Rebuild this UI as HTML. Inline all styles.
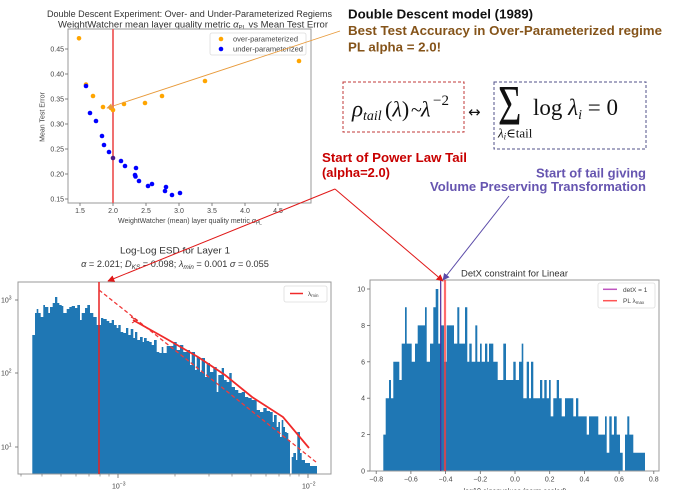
<!DOCTYPE html>
<html><head><meta charset="utf-8">
<style>
html,body{margin:0;padding:0;background:#fff;overflow:hidden;}
svg{display:block;}
text{font-family:"Liberation Sans",Arial,sans-serif;}
g.s text{font-family:"Liberation Serif","DejaVu Serif",serif;}
.t{fill:#444;font-size:7px;}
</style></head><body>
<svg width="688" height="490" viewBox="0 0 688 490" xmlns="http://www.w3.org/2000/svg">
<defs>
<marker id="ar" viewBox="0 0 10 10" refX="9" refY="5" markerWidth="7" markerHeight="7" orient="auto" markerUnits="userSpaceOnUse"><path d="M0,0 L10,5 L0,10 z" fill="#e01818"/></marker>
<marker id="ap" viewBox="0 0 10 10" refX="9" refY="5" markerWidth="7" markerHeight="7" orient="auto" markerUnits="userSpaceOnUse"><path d="M0,0 L10,5 L0,10 z" fill="#5a4aa8"/></marker>
<marker id="ao" viewBox="0 0 10 10" refX="9" refY="5" markerWidth="6" markerHeight="6" orient="auto" markerUnits="userSpaceOnUse"><path d="M0,0 L10,5 L0,10 z" fill="#e89a3a"/></marker>
</defs>
<rect width="688" height="490" fill="#fff"/>

<!-- ============ TOP-LEFT CHART ============ -->
<text x="189.5" y="17" font-size="8.8" fill="#333" text-anchor="middle" textLength="285" lengthAdjust="spacingAndGlyphs">Double Descent Experiment: Over- and Under-Parameterized Regiems</text>
<text x="58" y="27.5" font-size="8.8" fill="#333" textLength="270" lengthAdjust="spacingAndGlyphs">WeightWatcher mean layer quality metric <tspan font-style="italic">α</tspan><tspan font-size="5.5" dy="1.5">PL</tspan><tspan dy="-1.5">  vs Mean Test Error</tspan></text>
<rect x="68" y="29" width="243" height="174" fill="none" stroke="#9a9a9a" stroke-width="1"/>
<line x1="113" y1="29" x2="113" y2="203" stroke="#ee6060" stroke-width="1.8"/>
<g stroke="#666" stroke-width="0.8">
<line x1="65" y1="49" x2="68" y2="49"/><line x1="65" y1="74" x2="68" y2="74"/><line x1="65" y1="99" x2="68" y2="99"/><line x1="65" y1="124" x2="68" y2="124"/><line x1="65" y1="149" x2="68" y2="149"/><line x1="65" y1="174" x2="68" y2="174"/><line x1="65" y1="199" x2="68" y2="199"/>
<line x1="80" y1="203" x2="80" y2="206"/><line x1="113" y1="203" x2="113" y2="206"/><line x1="146" y1="203" x2="146" y2="206"/><line x1="179" y1="203" x2="179" y2="206"/><line x1="212" y1="203" x2="212" y2="206"/><line x1="245" y1="203" x2="245" y2="206"/><line x1="278" y1="203" x2="278" y2="206"/>
</g>
<g class="t" text-anchor="end">
<text x="64" y="51.5">0.45</text><text x="64" y="76.5">0.40</text><text x="64" y="101.5">0.35</text><text x="64" y="126.5">0.30</text><text x="64" y="151.5">0.25</text><text x="64" y="176.5">0.20</text><text x="64" y="201.5">0.15</text>
</g>
<g class="t" text-anchor="middle">
<text x="80" y="213">1.5</text><text x="113" y="213">2.0</text><text x="146" y="213">2.5</text><text x="179" y="213">3.0</text><text x="212" y="213">3.5</text><text x="245" y="213">4.0</text><text x="278" y="213">4.5</text>
</g>
<text transform="translate(44.5,117) rotate(-90)" class="t" text-anchor="middle">Mean Test Error</text>
<text x="190" y="223" class="t" text-anchor="middle">WeightWatcher (mean) layer quality metric <tspan font-style="italic">α</tspan><tspan font-size="5" dy="1.5">PL</tspan></text>
<g fill="#ffa500">
<circle cx="79" cy="38.3" r="2.3"/><circle cx="86" cy="84.5" r="2.3"/><circle cx="93" cy="96" r="2.3"/><circle cx="103" cy="107" r="2.3"/><circle cx="111" cy="108" r="2.3"/><circle cx="113" cy="110" r="2.3"/><circle cx="124" cy="104" r="2.3"/><circle cx="145" cy="103" r="2.3"/><circle cx="162" cy="96" r="2.3"/><circle cx="205" cy="81" r="2.3"/><circle cx="299" cy="61" r="2.3"/>
</g>
<g fill="#0000ff">
<circle cx="86" cy="86" r="2.3"/><circle cx="90" cy="113" r="2.3"/><circle cx="96" cy="121" r="2.3"/><circle cx="102" cy="136" r="2.3"/><circle cx="104" cy="145" r="2.3"/><circle cx="109" cy="152" r="2.3"/><circle cx="113" cy="158" r="2.3" fill="#4a1a8a"/><circle cx="121" cy="161" r="2.3"/><circle cx="125" cy="166" r="2.3"/><circle cx="136" cy="168" r="2.3"/><circle cx="135" cy="175" r="2.3"/><circle cx="135.5" cy="176.5" r="2.3"/><circle cx="139" cy="181" r="2.3"/><circle cx="148" cy="186" r="2.3"/><circle cx="152" cy="184" r="2.3"/><circle cx="165" cy="191" r="2.3"/><circle cx="166" cy="187" r="2.3"/><circle cx="172" cy="195" r="2.3"/><circle cx="180" cy="193" r="2.3"/>
</g>
<rect x="210" y="33" width="96" height="22" fill="#fff" stroke="#dcdcdc" stroke-width="0.8" rx="2"/>
<circle cx="221" cy="39" r="2.3" fill="#ffa500"/>
<circle cx="221" cy="49" r="2.3" fill="#0000ff"/>
<text x="233" y="41.5" class="t" textLength="65" lengthAdjust="spacingAndGlyphs">over-parameterized</text>
<text x="233" y="51.5" class="t" textLength="70" lengthAdjust="spacingAndGlyphs">under-parameterized</text>
<line x1="340" y1="31" x2="107" y2="108" stroke="#e89a3a" stroke-width="0.9" marker-end="url(#ao)"/>

<!-- ============ TOP-RIGHT TEXT ============ -->
<text x="348" y="18.3" font-size="13" font-weight="bold" fill="#111" textLength="185" lengthAdjust="spacingAndGlyphs">Double Descent model (1989)</text>
<text x="348" y="35" font-size="13" font-weight="bold" fill="#85541a" textLength="314" lengthAdjust="spacingAndGlyphs">Best Test Accuracy in Over-Parameterized regime</text>
<text x="348" y="51.3" font-size="13" font-weight="bold" fill="#85541a" textLength="93" lengthAdjust="spacingAndGlyphs">PL alpha = 2.0!</text>

<rect x="343" y="82" width="121" height="50" fill="none" stroke="#c03838" stroke-width="1" stroke-dasharray="3,2"/>
<rect x="494" y="82" width="152" height="67" fill="none" stroke="#50508a" stroke-width="1" stroke-dasharray="3,2"/>
<g class="s" fill="#111">
<text x="352" y="116.5" font-size="23" font-style="italic">ρ</text>
<text x="363" y="120" font-size="14" font-style="italic">tail</text>
<text x="385" y="116.5" font-size="22">(<tspan font-style="italic">λ</tspan>)</text>
<text x="411" y="116.5" font-size="20">~</text>
<text x="421" y="116.5" font-size="22" font-style="italic">λ</text>
<text x="433" y="105" font-size="15">−2</text>
<text x="468" y="117" font-size="15" style="font-family:'DejaVu Sans',sans-serif">↔</text>
<text transform="translate(498,124.5) scale(1.12,1.6)" font-size="36">Σ</text>
<text x="533" y="115" font-size="23">log <tspan font-style="italic">λ</tspan><tspan font-size="14" font-style="italic" dy="4">i</tspan><tspan dy="-4"> = 0</tspan></text>
<text x="498" y="137.5" font-size="13"><tspan font-style="italic">λ</tspan><tspan font-size="9" font-style="italic" dy="2">i</tspan><tspan dy="-2">∈tail</tspan></text>
</g>

<text x="322" y="162" font-size="13" font-weight="bold" fill="#c80000" textLength="145" lengthAdjust="spacingAndGlyphs">Start of Power Law Tail</text>
<text x="322" y="177" font-size="13" font-weight="bold" fill="#c80000" textLength="68" lengthAdjust="spacingAndGlyphs">(alpha=2.0)</text>
<text x="536" y="177.3" font-size="13" font-weight="bold" fill="#6655b0" textLength="110" lengthAdjust="spacingAndGlyphs">Start of tail giving</text>
<text x="430" y="191" font-size="13" font-weight="bold" fill="#6655b0" textLength="216" lengthAdjust="spacingAndGlyphs">Volume Preserving Transformation</text>

<!-- ============ BOTTOM-LEFT CHART ============ -->
<text x="175" y="253.5" font-size="9.5" fill="#333" text-anchor="middle" textLength="110" lengthAdjust="spacingAndGlyphs">Log-Log ESD for Layer 1</text>
<text x="175" y="267" font-size="9.2" fill="#333" text-anchor="middle"><tspan font-style="italic">α</tspan> = 2.021; <tspan font-style="italic">D</tspan><tspan font-size="6.5" font-style="italic" dy="2">KS</tspan><tspan dy="-2"> = 0.098; </tspan><tspan font-style="italic">λ</tspan><tspan font-size="6.5" font-style="italic" dy="2">min</tspan><tspan dy="-2"> = 0.001 </tspan><tspan font-style="italic">σ</tspan> = 0.055</text>
<path fill="#1f77b4" d="M32.3,474 V335 H35 V313 H36.7 V309 H38.3 V313 H40.7 V317 H43.3 V305 H45 V307 H48.3 V313 H50 V307 H52.7 V303 H55 V297 H57.3 V303 H59.3 V305 H61.7 V306 H63.3 V313 H66.7 V309 H69.3 V307 H71.7 V306 H75 V308 H77.3 V305 H80 V320 H81.7 V313 H85 V308 H87.3 V305 H90 V313 H93.3 V317 H96.7 V325 H101 V318 H103.3 V319 H106.7 V321 H109.3 V323 H111.7 V320 H114 V325 H116.7 V328 H118.3 V325 H120.7 V332 H123.3 V333 H126 V328 H128.3 V335 H130.7 V329 H133.3 V338 H135 V332 H137.3 V340 H140 V337 H142.7 V342 H144 V338 H146.7 V341 H149.3 V342 H151.7 V345 H154 V340 H156.7 V352 H159.3 V353 H161.7 V347 H163.3 V353 H166.7 V346 H173.3 V342 H176.7 V350 H180 V345 H183.3 V352 H186.7 V350 H190 V365 H191.7 V352 H195 V370 H196.7 V357 H200 V372 H201.7 V358 H205 V377 H206.7 V363 H210 V372 H213.3 V367 H216.7 V392 H218.3 V375 H221.7 V368 H224 V380 H226.7 V382 H229.3 V373 H231.7 V387 H235 V390 H238.3 V393 H241.7 V392 H245 V397 H248.3 V398 H251.7 V400 H256.7 V410 H260 V412 H263.3 V408 H266.7 V411 H270 V412 H272.7 V422 H274 V415 H276.7 V427 H278.3 V422 H280 V437 H281.7 V420 H283.3 V427 H285 V432 H286.7 V433 H288.3 V440 H290 V474 H291.7 V457 H293.3 V453 H296 V460 H297.3 V432 H300 V453 H301.7 V460 H305 V463 H310 V466 H317 V474 Z"/>
<rect x="18" y="282" width="313" height="192" fill="none" stroke="#9a9a9a" stroke-width="1"/>
<line x1="99" y1="282" x2="99" y2="474" stroke="#e82020" stroke-width="1.5"/>
<line x1="99" y1="290" x2="316" y2="462" stroke="#f03a3a" stroke-width="1.3" stroke-dasharray="4,2.5"/>
<polyline points="133,320 165,338 198,357 225,375 252,397 283,417 309,448" fill="none" stroke="#f02a2a" stroke-width="1.8"/>
<path d="M131,317 l6,3 l-5,3" fill="none" stroke="#e02020" stroke-width="1"/>
<rect x="284" y="286" width="43" height="16" fill="#fff" stroke="#dcdcdc" stroke-width="0.8" rx="2"/>
<line x1="290" y1="293.5" x2="303" y2="293.5" stroke="#f02a2a" stroke-width="1.5"/>
<text x="308" y="296" font-size="6.5" fill="#444">λ<tspan font-size="4.5" dy="1">min</tspan></text>
<g stroke="#666" stroke-width="0.8">
<line x1="15" y1="300" x2="18" y2="300"/><line x1="15" y1="373" x2="18" y2="373"/><line x1="15" y1="447" x2="18" y2="447"/>
<line x1="118" y1="474" x2="118" y2="478"/><line x1="308" y1="474" x2="308" y2="478"/>
</g>
<g stroke="#666" stroke-width="0.6">
<line x1="21" y1="474" x2="21" y2="476.5"/><line x1="42" y1="474" x2="42" y2="476.5"/><line x1="61" y1="474" x2="61" y2="476.5"/><line x1="76" y1="474" x2="76" y2="476.5"/><line x1="89" y1="474" x2="89" y2="476.5"/><line x1="100" y1="474" x2="100" y2="476.5"/><line x1="109" y1="474" x2="109" y2="476.5"/>
<line x1="175" y1="474" x2="175" y2="476.5"/><line x1="209" y1="474" x2="209" y2="476.5"/><line x1="232" y1="474" x2="232" y2="476.5"/><line x1="251" y1="474" x2="251" y2="476.5"/><line x1="266" y1="474" x2="266" y2="476.5"/><line x1="279" y1="474" x2="279" y2="476.5"/><line x1="290" y1="474" x2="290" y2="476.5"/><line x1="299" y1="474" x2="299" y2="476.5"/>
</g>
<g class="t">
<text x="1" y="302.5">10<tspan font-size="5" dy="-3">3</tspan></text>
<text x="1" y="375.5">10<tspan font-size="5" dy="-3">2</tspan></text>
<text x="1" y="449.5">10<tspan font-size="5" dy="-3">1</tspan></text>
<text x="112" y="488.5">10<tspan font-size="5" dy="-3">−3</tspan></text>
<text x="302" y="488.5">10<tspan font-size="5" dy="-3">−2</tspan></text>
</g>

<!-- ============ BOTTOM-RIGHT CHART ============ -->
<text x="514.5" y="276.5" font-size="9.3" fill="#333" text-anchor="middle" textLength="107" lengthAdjust="spacingAndGlyphs">DetX constraint for Linear</text>
<path fill="#1f77b4" d="M383.3,471 V434.6 H385.7 V398.2 H389 V380 H391 V398.2 H393.3 V361.8 H399.3 V380 H401.7 V343.6 H405 V307.2 H406.7 V343.6 H411.7 V361.8 H415 V343.6 H417.7 V325.4 H425 V307.2 H426.7 V361.8 H430 V343.6 H433.3 V307.2 H435.7 V289 H438.3 V343.6 H441 V325.4 H444 V361.8 H446.7 V325.4 H454 V343.6 H457.3 V307.2 H459.3 V343.6 H465 V307.2 H467.3 V361.8 H469.3 V343.6 H471.7 V361.8 H475.3 V325.4 H477.3 V361.8 H480 V343.6 H481.7 V361.8 H485 V343.6 H487.3 V361.8 H489 V343.6 H493.3 V361.8 H497.7 V380 H503.3 V343.6 H506 V380 H513.3 V361.8 H515.7 V380 H519 V361.8 H521.7 V343.6 H523.3 V398.2 H526.7 V361.8 H529 V398.2 H531 V361.8 H533.3 V398.2 H540 V380 H542.3 V398.2 H544.3 V380 H546.7 V398.2 H549 V380 H550.7 V416.4 H553.3 V398.2 H556.7 V380 H559 V398.2 H561.7 V416.4 H565 V398.2 H573.3 V416.4 H576 V398.2 H578.3 V416.4 H586.7 V434.6 H589 V416.4 H598.3 V434.6 H605 V416.4 H606.7 V452.8 H609.3 V416.4 H611.7 V434.6 H614 V416.4 H616.7 V434.6 H620 V452.8 H622.7 V471 H625 V434.6 H627.3 V416.4 H629.3 V434.6 H633.3 V452.8 H645 V471 Z"/>
<rect x="370" y="280" width="289" height="191" fill="none" stroke="#9a9a9a" stroke-width="1"/>
<line x1="440.7" y1="280" x2="440.7" y2="471" stroke="#4a2a9a" stroke-width="1.2"/>
<line x1="445" y1="280" x2="445" y2="471" stroke="#ff3b3b" stroke-opacity="0.75" stroke-width="2.2"/>
<rect x="598" y="283" width="57" height="25" fill="#fff" stroke="#dcdcdc" stroke-width="0.8" rx="2"/>
<line x1="603" y1="289.3" x2="617" y2="289.3" stroke="#bf55c0" stroke-width="1.5"/>
<line x1="603" y1="300.7" x2="617" y2="300.7" stroke="#ff5555" stroke-width="1.5"/>
<text x="623" y="291.8" font-size="6.5" fill="#444">detX = 1</text>
<text x="623" y="303.2" font-size="6.5" fill="#444">PL λ<tspan font-size="4.5" dy="1">max</tspan></text>
<g stroke="#666" stroke-width="0.8">
<line x1="376.2" y1="471" x2="376.2" y2="474"/><line x1="410.9" y1="471" x2="410.9" y2="474"/><line x1="445.6" y1="471" x2="445.6" y2="474"/><line x1="480.3" y1="471" x2="480.3" y2="474"/><line x1="515" y1="471" x2="515" y2="474"/><line x1="549.7" y1="471" x2="549.7" y2="474"/><line x1="584.4" y1="471" x2="584.4" y2="474"/><line x1="619.1" y1="471" x2="619.1" y2="474"/><line x1="653.8" y1="471" x2="653.8" y2="474"/>
<line x1="367" y1="471" x2="370" y2="471"/><line x1="367" y1="434.6" x2="370" y2="434.6"/><line x1="367" y1="398.2" x2="370" y2="398.2"/><line x1="367" y1="361.8" x2="370" y2="361.8"/><line x1="367" y1="325.4" x2="370" y2="325.4"/><line x1="367" y1="289" x2="370" y2="289"/>
</g>
<g class="t" text-anchor="middle">
<text x="376.2" y="481.5">−0.8</text><text x="410.9" y="481.5">−0.6</text><text x="445.6" y="481.5">−0.4</text><text x="480.3" y="481.5">−0.2</text><text x="515" y="481.5">0.0</text><text x="549.7" y="481.5">0.2</text><text x="584.4" y="481.5">0.4</text><text x="619.1" y="481.5">0.6</text><text x="653.8" y="481.5">0.8</text>
</g>
<g class="t" text-anchor="end">
<text x="365" y="473.5">0</text><text x="365" y="437">2</text><text x="365" y="400.7">4</text><text x="365" y="364.3">6</text><text x="365" y="328">8</text><text x="365" y="291.5">10</text>
</g>
<text x="515" y="494" font-size="8" fill="#444" text-anchor="middle" textLength="103" lengthAdjust="spacingAndGlyphs">log10 eigenvalues (norm scaled)</text>

<!-- ============ ARROWS ============ -->
<line x1="335" y1="189" x2="108" y2="281" stroke="#e01818" stroke-width="1" marker-end="url(#ar)"/>
<line x1="335" y1="189" x2="443" y2="281" stroke="#e01818" stroke-width="1" marker-end="url(#ar)"/>
<line x1="509" y1="196" x2="443" y2="280" stroke="#5a4aa8" stroke-width="1" marker-end="url(#ap)"/>
</svg>
</body></html>
